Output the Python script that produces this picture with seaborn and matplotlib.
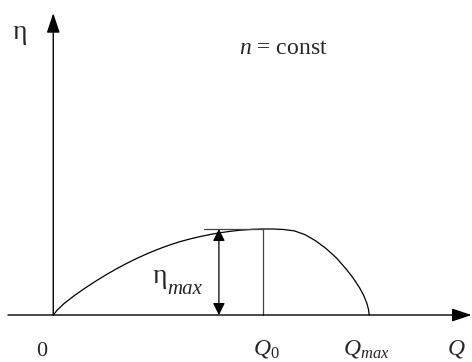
import numpy as np
import pandas as pd
import matplotlib
matplotlib.use("Agg")
import matplotlib.pyplot as plt
import seaborn as sns

# efficiency curve eta(Q) at n = const (eta_max = 1, Q0 = 1)
flow = [0.0, 0.02, 0.05, 0.10, 0.15, 0.20, 0.25, 0.30, 0.35, 0.40,
        0.45, 0.50, 0.55, 0.60, 0.65, 0.70, 0.75, 0.80, 0.85, 0.90,
        0.95, 1.00, 1.05, 1.10, 1.15, 1.20, 1.25, 1.30, 1.35, 1.40,
        1.43, 1.46, 1.48, 1.495, 1.503, 1.507]
efficiency = [0.0, 0.06, 0.13, 0.225, 0.31, 0.39, 0.465, 0.535, 0.60, 0.66,
              0.715, 0.765, 0.81, 0.85, 0.883, 0.912, 0.937, 0.958, 0.975, 0.988,
              0.996, 1.0, 1.0, 0.994, 0.978, 0.935, 0.865, 0.775, 0.665, 0.525,
              0.43, 0.32, 0.23, 0.14, 0.07, 0.0]

q_opt = 1.0        # Q0
eta_max = 1.0
q_arrow = 0.79     # position of the eta_max dimension arrow
q_tangent_start = 0.72

tick_labels = ["0", "$Q_0$", "$Q_{max}$", "$Q$"]

df = pd.DataFrame({"Q": flow, "eta": efficiency})

sns.set_theme(style="white")
plt.rcParams["font.family"] = ["Liberation Serif", "DejaVu Serif"]
plt.rcParams["mathtext.fontset"] = "custom"
plt.rcParams["mathtext.rm"] = "Liberation Serif"
plt.rcParams["mathtext.it"] = "Liberation Serif:italic"

fig = plt.figure(figsize=(4.72, 3.62), dpi=100)
ax = fig.add_axes([0, 0, 1, 1])
ax.set_xlim(-0.254, 1.997)
ax.set_ylim(-0.5465, 3.663)
ax.axis("off")

# axes with arrows
ax.annotate("", xy=(1.995, 0), xytext=(-0.216, 0),
            arrowprops=dict(arrowstyle="-|>,head_length=0.6,head_width=0.2",
                            mutation_scale=20, color="black", lw=1.0,
                            shrinkA=0, shrinkB=0))
ax.annotate("", xy=(0, 3.51), xytext=(0, 0),
            arrowprops=dict(arrowstyle="-|>,head_length=0.6,head_width=0.2",
                            mutation_scale=20, color="black", lw=1.0,
                            shrinkA=0, shrinkB=0))

sns.lineplot(data=df, x="Q", y="eta", ax=ax, color="black", lw=0.9,
             estimator=None)

# tangent at the top and Q0 line
ax.plot([q_tangent_start, q_opt], [eta_max, eta_max], color="#444444", lw=0.9)
ax.plot([q_opt, q_opt], [0, eta_max], color="#444444", lw=0.9)

# eta_max dimension arrow
ax.annotate("", xy=(q_arrow, eta_max), xytext=(q_arrow, 0),
            arrowprops=dict(arrowstyle="<|-|>,head_length=0.4,head_width=0.2",
                            mutation_scale=18, color="black", lw=0.9,
                            shrinkA=0, shrinkB=0))

ax.text(0.507, 0.45, "η", fontsize=20, ha="center", va="center")
ax.text(0.545, 0.30, "max", fontsize=15, style="italic", ha="left", va="center")

ax.text(-0.161, 3.29, "η", fontsize=20, ha="center", va="center")
ax.text(0.885, 3.10, "$n$ = const", fontsize=17, ha="left", va="center")

# axis labels
label_x = [-0.054, 0.952, 1.381, 1.877]
ax.text(label_x[0], -0.42, tick_labels[0], fontsize=16, ha="center", va="center")
for lx, lab in zip(label_x[1:], tick_labels[1:]):
    ax.text(lx, -0.39, lab, fontsize=17, ha="left", va="center")

fig.savefig("out.png", dpi=100)
